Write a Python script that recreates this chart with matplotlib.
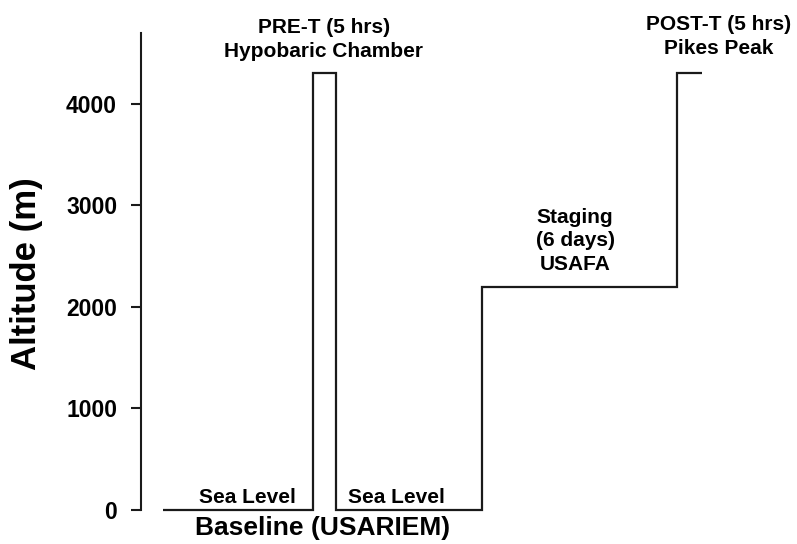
import matplotlib
matplotlib.use("Agg")
import matplotlib.pyplot as plt

# ---- data ----
phase_edges = [0, 149.5, 172.5, 319, 514, 539]          # time (arbitrary units)
altitudes = [0, 4300, 0, 2200, 4300]                      # m
yticks = [0, 1000, 2000, 3000, 4000]
phase_labels = ["Sea Level", "PRE-T (5 hrs)\nHypobaric Chamber", "Sea Level",
                "Staging\n(6 days)\nUSAFA", "POST-T (5 hrs)\nPikes Peak"]
label_x = [84, 161, 233, 412, 555.5]
label_y = [70, 4635, 70, 2650, 4665]
label_va = ["baseline", "center", "baseline", "center", "center"]

plt.rcParams['font.family'] = ['Liberation Sans', 'DejaVu Sans']
plt.rcParams['font.weight'] = 'bold'

fig = plt.figure(figsize=(7.97, 5.44), dpi=100)
ax = fig.add_axes([140.7/797, 34/544, (797-140.7)/797, (510-32.7)/544])

col = '#1a1a1a'
ax.stairs(altitudes, phase_edges, baseline=None, color=col, linewidth=1.6, clip_on=False)

ax.set_xlim(-22.3, 634)
ax.set_ylim(0, 4700)
ax.set_yticks(yticks)
ax.set_yticklabels([str(t) for t in yticks], fontsize=16.5, fontweight='bold')
ax.tick_params(axis='y', length=7, width=1.5, pad=10, color=col, labelcolor='black')
ax.set_xticks([])
for s in ['top', 'right', 'bottom']:
    ax.spines[s].set_visible(False)
ax.spines['left'].set_linewidth(1.5)
ax.spines['left'].set_color(col)

for txt, x, y, va in zip(phase_labels, label_x, label_y, label_va):
    ax.text(x, y, txt, ha='center', va=va, fontsize=15, fontweight='bold',
            linespacing=1.3, clip_on=False)

ax.text(160, -177, "Baseline (USARIEM)", ha='center', va='center', fontsize=19,
        fontweight='bold', clip_on=False)

fig.text(27/797, 1 - 274/544, "Altitude (m)", rotation=90, ha='center', va='center',
         fontsize=25, fontweight='bold')

fig.savefig("out.png", dpi=100)
